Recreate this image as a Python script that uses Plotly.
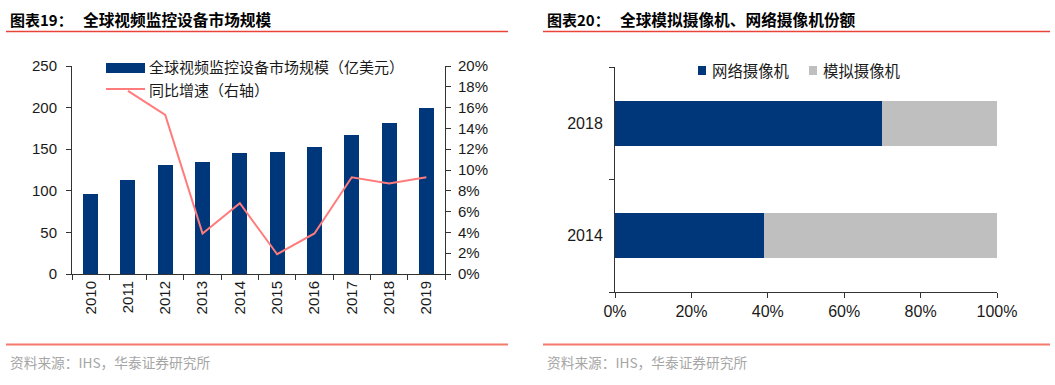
import plotly.graph_objects as go

# ---------------- data ----------------
years = ["2010", "2011", "2012", "2013", "2014", "2015", "2016", "2017", "2018", "2019"]
market_size = [96, 113, 131, 135, 145, 147, 153, 167, 182, 199]          # 亿美元
growth_pct = [None, 17.6, 15.3, 3.9, 6.8, 1.9, 3.9, 9.3, 8.7, 9.3]       # %
share_years = ["2014", "2018"]
network_share = [39, 70]   # %
analog_share = [61, 30]    # %

left_ticks_y = [0, 50, 100, 150, 200, 250]

NAVY = "#00377A"
GRAY = "#BFBFBF"
SALMON = "#FF7C7C"
RED = "#E8443A"
FOOT_RED = "#F47A6C"
TXT = "#1a1a1a"
W, H = 1055, 385
NUM_FONT = "Liberation Sans, Arial, sans-serif"
CJK_FONT = "Noto Sans CJK SC, sans-serif"


def px(x):
    return x / W


def py(y):
    return 1 - y / H


fig = go.Figure()

fig.add_trace(go.Bar(x=years, y=market_size, marker_color=NAVY, marker_line_width=0,
                     name="全球视频监控设备市场规模（亿美元）", xaxis="x", yaxis="y", showlegend=False))
fig.add_trace(go.Scatter(x=years, y=growth_pct, mode="lines", line=dict(color=SALMON, width=2),
                         name="同比增速（右轴）", xaxis="x", yaxis="y2", showlegend=False))
fig.add_trace(go.Bar(y=share_years, x=network_share, orientation="h", marker_color=NAVY,
                     marker_line_width=0, name="网络摄像机", xaxis="x3", yaxis="y3", showlegend=False))
fig.add_trace(go.Bar(y=share_years, x=analog_share, orientation="h", marker_color=GRAY,
                     marker_line_width=0, name="模拟摄像机", xaxis="x3", yaxis="y3", showlegend=False))

axis_common = dict(showgrid=False, zeroline=False, showline=True, linecolor="#333333", linewidth=1,
                   ticks="outside", ticklen=5, tickcolor="#333333", automargin=False,
                   tickfont=dict(family=NUM_FONT, size=15, color=TXT))

fig.update_layout(
    width=W, height=H, margin=dict(l=0, r=0, t=0, b=0, autoexpand=False),
    paper_bgcolor="white", plot_bgcolor="white", showlegend=False,
    barmode="stack", bargap=0.6,
    xaxis=dict(domain=[px(72), px(445)], anchor="y", type="category", tickson="boundaries",
               tickangle=-90, **axis_common),
    yaxis=dict(domain=[py(274), py(66)], anchor="x", range=[0, 250], tickvals=left_ticks_y,
               ticklabelstandoff=6, **axis_common),
    yaxis2=dict(overlaying="y", side="right", anchor="x", range=[0, 20], dtick=2, ticksuffix="%",
                ticklabelstandoff=4, **axis_common),
    xaxis3=dict(domain=[px(615), px(997)], anchor="y3", range=[0, 100], dtick=20, ticksuffix="%",
                **{**axis_common, "tickfont": dict(family=NUM_FONT, size=16, color=TXT)}),
    yaxis3=dict(domain=[py(292), py(67)], anchor="x3", type="category", tickson="boundaries",
                ticklabelstandoff=8,
                **{**axis_common, "tickfont": dict(family=NUM_FONT, size=16, color=TXT)}),
)

shapes = []
annotations = []

# titles and rules
for x0, x1, num, label in [(6, 508, "图表19：", "全球视频监控设备市场规模"),
                           (543, 1050, "图表20：", "全球模拟摄像机、网络摄像机份额")]:
    annotations.append(dict(x=px(x0 + 2), y=py(19), xref="paper", yref="paper", xanchor="left",
                            yanchor="middle", text="<b>" + num + "</b>", showarrow=False,
                            font=dict(family=CJK_FONT, size=15, color="#000000")))
    annotations.append(dict(x=px(x0 + 75), y=py(19), xref="paper", yref="paper", xanchor="left",
                            yanchor="middle", text="<b>" + label + "</b>", showarrow=False,
                            font=dict(family=CJK_FONT, size=15.7, color="#000000")))
    shapes.append(dict(type="line", xref="paper", yref="paper", x0=px(x0), x1=px(x1),
                       y0=py(31.5), y1=py(31.5), line=dict(color=RED, width=1.3)))
    shapes.append(dict(type="line", xref="paper", yref="paper", x0=px(x0), x1=px(x1),
                       y0=py(344.5), y1=py(344.5), line=dict(color=FOOT_RED, width=2)))
    annotations.append(dict(x=px(x0 + 2), y=py(362), xref="paper", yref="paper", xanchor="left",
                            yanchor="middle", text="资料来源：IHS，华泰证券研究所", showarrow=False,
                            font=dict(family=CJK_FONT, size=13.7, color="#A6A6A6")))

# left legend (drawn)
shapes.append(dict(type="rect", xref="paper", yref="paper", x0=px(106), x1=px(145),
                   y0=py(73), y1=py(63), fillcolor=NAVY, line=dict(width=0)))
shapes.append(dict(type="line", xref="paper", yref="paper", x0=px(106), x1=px(145),
                   y0=py(89), y1=py(89), line=dict(color=SALMON, width=2)))
annotations.append(dict(x=px(148), y=py(67), xref="paper", yref="paper", xanchor="left",
                        yanchor="middle", text="全球视频监控设备市场规模（亿美元）", showarrow=False,
                        font=dict(family=CJK_FONT, size=15, color=TXT), borderpad=0))
annotations.append(dict(x=px(148), y=py(90), xref="paper", yref="paper", xanchor="left",
                        yanchor="middle", text="同比增速（右轴）", showarrow=False,
                        font=dict(family=CJK_FONT, size=15, color=TXT), borderpad=0))

# right legend (drawn)
for sx, color, label in [(698, NAVY, "网络摄像机"), (809, GRAY, "模拟摄像机")]:
    shapes.append(dict(type="rect", xref="paper", yref="paper", x0=px(sx), x1=px(sx + 8),
                       y0=py(75), y1=py(66), fillcolor=color, line=dict(width=0)))
    annotations.append(dict(x=px(sx + 12), y=py(70), xref="paper", yref="paper", xanchor="left",
                            yanchor="middle", text=label, showarrow=False,
                            font=dict(family=CJK_FONT, size=15.4, color=TXT)))

fig.update_layout(shapes=shapes, annotations=annotations)

fig.write_html("out.html", config={"displayModeBar": False},
               post_script="document.body.style.margin='0';document.body.style.overflow='hidden';")
